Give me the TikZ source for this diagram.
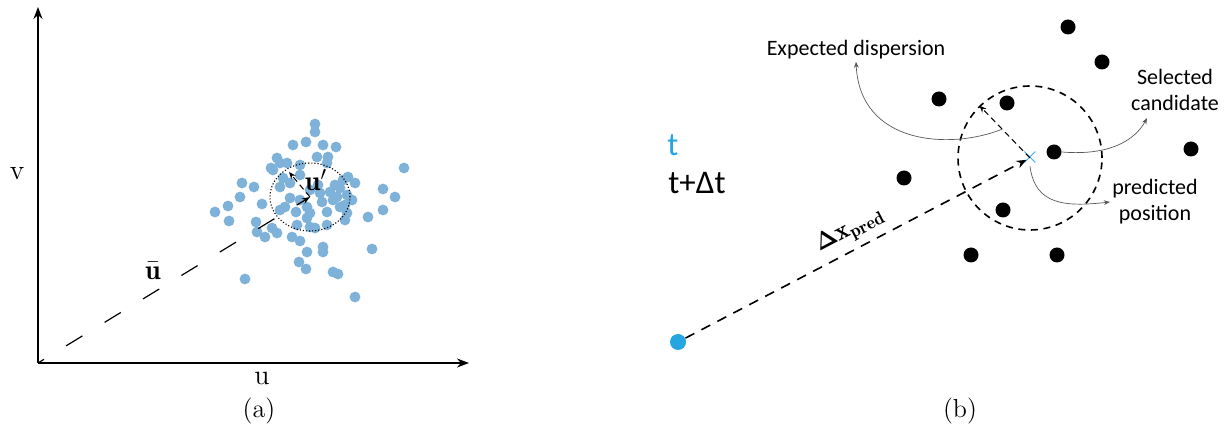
\documentclass[tikz,border=0pt]{standalone}
\usepackage{amsmath,amssymb}
\usepackage{fontspec}
\newfontfamily\notefont{Carlito}
\usetikzlibrary{positioning, arrows.meta, calc}
\definecolor{scatterblue}{RGB}{126,178,217}
\definecolor{timeblue}{RGB}{38,166,224}

\begin{document}
\begin{tikzpicture}[x=0.5pt, y=-0.5pt,
    axisline/.style={line width=0.9pt, -{Stealth[length=6pt, width=4.5pt]}},
    sample/.style={fill=scatterblue},
    candidate/.style={circle, fill=black, inner sep=0pt, minimum size=7.5pt},
    note/.style={gray!70!black, line width=0.35pt, -{Stealth[length=3pt, width=2.4pt]}},
    notetext/.style={font=\notefont\fontsize{11}{13}\selectfont, align=center, inner sep=1pt},
    axislabel/.style={font=\fontsize{14}{16}\selectfont, inner sep=1pt}]

\useasboundingbox (0,0) rectangle (1230,437);

% ---- (a) velocity space
\coordinate (O) at (38,363);
\coordinate (vtip) at (38,7);
\coordinate (utip) at (469,363);
\coordinate (C) at (310,197);
\coordinate (D) at (289,172);

% Scattered samples
\foreach \px/\py in {315/124, 315/132, 293/145, 306/142, 323/145, 336/147, 277/158,
    317/157, 328/157, 271/168, 287/163, 300/165, 327/163, 404/168, 242/183, 254/187,
    348/177, 355/183, 383/189, 395/197, 240/197, 215/212, 228/206, 229/221, 262/204,
    256/222, 383/210, 368/217, 327/212, 310/213, 347/213, 345/220, 257/232, 265/237,
    272/228, 277/233, 292/237, 300/241, 315/228, 307/252, 323/247, 323/252, 372/249,
    299/262, 306/269, 333/272, 338/274, 245/279, 355/297, 280/187, 290/198, 285/207,
    300/200, 310/190, 320/193, 330/192, 337/197, 340/188, 347/195, 340/207, 307/218,
    310/227, 297/225, 280/210, 307/207, 322/202, 343/180, 352/200, 290/183, 300/175,
    273/170, 280/163, 283/178, 335/185, 318/185, 296/212, 327/225, 345/205, 333/200}
  \fill[sample] (\px,\py) circle (2.7pt);

% Axes
\draw[axisline] (O) -- (vtip);
\draw[axisline] (O) -- (utip);

% Dispersion around the mean
\draw[line width=0.55pt, densely dotted] (C) ellipse (20pt and 17pt);

% Mean and fluctuation
\draw[line width=0.6pt, dash pattern=on 9.5pt off 13pt, dash phase=6pt,
      -{Stealth[length=4pt, width=3pt]}] (O) -- (C);
\draw[line width=0.5pt, densely dashed, -{Stealth[length=3.5pt, width=2.8pt]}] (C) -- (D);

\node[font=\fontsize{14}{16}\selectfont] (ubar) at (153,271) {$\bar{\mathbf{u}}$};
\node[font=\fontsize{14}{16}\selectfont] (uprime) at (316,180) {$\mathbf{u}'$};
\node[axislabel] (ulab) at (262,378) {u};
\node[axislabel] (vlab) at (17,174) {v};
\node[font=\fontsize{13}{15}\selectfont] (capa) at (259,411) {(a)};

% ---- (b) candidate search
\coordinate (pred) at (1030,158);
\node[circle, fill=timeblue, inner sep=0pt, minimum size=8pt] (start) at (678,342) {};
\node[circle, draw, line width=0.8pt, dash pattern=on 3.5pt off 2.8pt,
      minimum size=72pt, inner sep=0pt] (disp) at (pred) {};

% Candidates
\node[candidate] (c1) at (1068,27) {};
\node[candidate] (c2) at (1102,62) {};
\node[candidate] (c3) at (939,99) {};
\node[candidate] (c4) at (1007,103) {};
\node[candidate] (c5) at (1054,152) {};
\node[candidate] (c6) at (1191,149) {};
\node[candidate] (c7) at (904,178) {};
\node[candidate] (c8) at (1003,210) {};
\node[candidate] (c9) at (971,255) {};
\node[candidate] (c10) at (1057,255) {};

\node[text=timeblue, font=\fontsize{12}{12}\selectfont, inner sep=0pt] (predmark) at (pred) {$\times$};

% Predicted displacement
\draw[line width=0.8pt, dash pattern=on 5pt off 4pt, shorten >=2pt,
      -{Stealth[length=5pt, width=4pt]}] (start) -- (pred);
\draw[line width=0.5pt, densely dashed, -{Stealth[length=3.5pt, width=2.8pt]}] (pred) -- (disp.134);
\coordinate (r1) at ($(pred)!0.55!(disp.134)$);

\node[font=\fontsize{13}{15}\selectfont, rotate=27.7, inner sep=0pt] (dxlab) at (850,231)
  {$\boldsymbol{\Delta}\mathbf{x}_{\mathbf{pred}}$};

\node[text=timeblue, font=\notefont\fontsize{16.5}{18}\selectfont] (tlab) at (673,145) {t};
\node[font=\notefont\fontsize{16.5}{18}\selectfont] (tdt) at (697,183) {t+Δt};

% Annotations
\node[notetext] (expd) at (856,50) {Expected dispersion};
\node[notetext] (selc) at (1175,90) {Selected\\candidate};
\node[notetext] (predp) at (1155,202) {predicted\\position};
\coordinate (selend) at ($(selc.south)+(-28,5)$);

\draw[note] (r1) .. controls (950,150) and (860,145) .. (expd.south);
\draw[note] (c5.east) .. controls (1110,156) and (1135,140) .. (selend);
\draw[note] (predmark.south) .. controls (1035,205) and (1065,207) .. (predp.west);

\node[font=\fontsize{13}{15}\selectfont] (capb) at (960,411) {(b)};

\end{tikzpicture}
\end{document}
